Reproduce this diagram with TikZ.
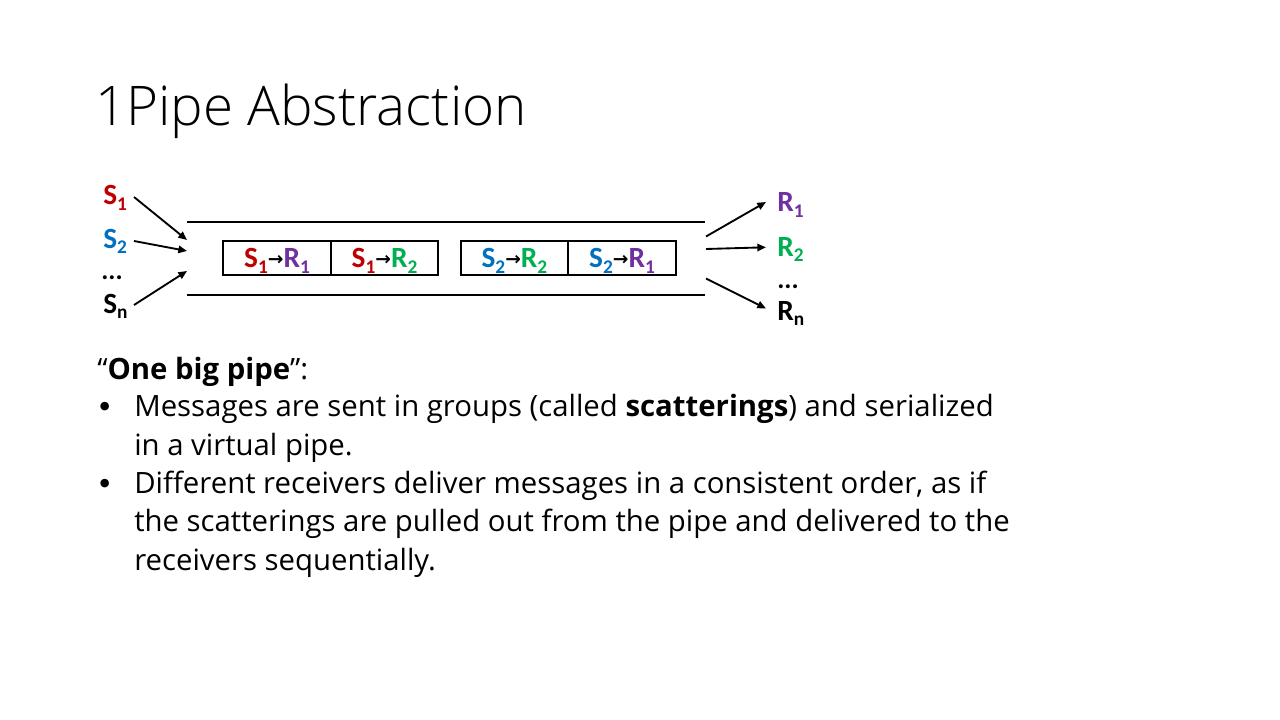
\documentclass[tikz,border=0pt]{standalone}
\usepackage{fontspec}
\setmainfont{Open Sans}
\newfontfamily\titlefont{Open Sans Light}
\newfontfamily\lblfont{Carlito}
\newfontfamily\arrfont{DejaVu Sans}
\usetikzlibrary{arrows.meta}
\definecolor{cred}{HTML}{C00000}
\definecolor{cblue}{HTML}{0070C0}
\definecolor{cpurple}{HTML}{7030A0}
\definecolor{cgreen}{HTML}{00B050}
\newcommand{\lsub}[1]{\raisebox{-0.2em}{\fontsize{14.5}{14.5}\selectfont #1}}
\newcommand{\larr}{{\arrfont\fontsize{14}{14}\selectfont\raisebox{0.12em}{→}}}
\newcommand{\lab}[3]{\textcolor{#1}{#2\lsub{#3}}}
\tikzset{
  lbl/.style={inner sep=0pt, anchor=base west, text depth=0pt, font=\lblfont\bfseries\fontsize{22}{22}\selectfont},
  cell/.style={draw, line width=1.5pt, minimum width=80.6pt, minimum height=25.5pt, inner sep=0pt,
    text height=14.2pt, text depth=0pt, font=\lblfont\bfseries\fontsize{22}{22}\selectfont},
  pipeline/.style={line width=1.5pt},
  conn/.style={line width=1.4pt, -{Triangle[length=6.5pt,width=5.5pt]}},
  body/.style={inner sep=0pt, anchor=base west, align=left, font=\fontsize{22}{28.7}\selectfont},
  bul/.style={inner sep=0pt, anchor=base, font=\arrfont\fontsize{22}{28.7}\selectfont}
}
\begin{document}
\begin{tikzpicture}[x=0.75pt,y=-0.75pt]
\useasboundingbox (0,0) rectangle (1280,720);
\fill[white] (0,0) rectangle (1280,720);

% title
\node[inner sep=0pt, anchor=base west, font=\titlefont\fontsize{41}{41}\selectfont] (title) at (95,126) {1Pipe Abstraction};

% senders
\node[lbl] (s1) at (103,205) {\lab{cred}{S}{1}};
\node[lbl] (s2) at (103,248) {\lab{cblue}{S}{2}};
\node[lbl, font=\lblfont\bfseries\fontsize{20}{20}\selectfont] (sd) at (101,279) {...};
\node[lbl] (sn) at (103,313) {\lab{black}{S}{n}};

% receivers
\node[lbl] (r1) at (777,212) {\lab{cpurple}{R}{1}};
\node[lbl] (r2) at (777,256) {\lab{cgreen}{R}{2}};
\node[lbl, font=\lblfont\bfseries\fontsize{20}{20}\selectfont] (rd) at (777,288) {...};
\node[lbl] (rn) at (777,320) {\lab{black}{R}{n}};

% pipe
\coordinate (ptl) at (187,222);
\coordinate (ptr) at (705,222);
\coordinate (pbl) at (187,295);
\coordinate (pbr) at (705,295);
\draw[pipeline] (ptl) -- (ptr);
\draw[pipeline] (pbl) -- (pbr);

% cells
\node[cell] (c1) at (277,258) {\lab{cred}{S}{1}\larr\lab{cpurple}{R}{1}};
\node[cell] (c2) at (384.5,258) {\lab{cred}{S}{1}\larr\lab{cgreen}{R}{2}};
\node[cell] (c3) at (514.4,258) {\lab{cblue}{S}{2}\larr\lab{cgreen}{R}{2}};
\node[cell] (c4) at (622,258) {\lab{cblue}{S}{2}\larr\lab{cpurple}{R}{1}};

% sender connectors
\coordinate (s1o) at (134,197);
\coordinate (s2o) at (134,241);
\coordinate (sno) at (134,305);
\coordinate (s1i) at (187,240);
\coordinate (s2i) at (187,251);
\coordinate (sni) at (187,271);
\draw[conn] (s1o) -- (s1i);
\draw[conn] (s2o) -- (s2i);
\draw[conn] (sno) -- (sni);

% receiver connectors
\coordinate (r1o) at (706,236.5);
\coordinate (r2o) at (706,249);
\coordinate (rno) at (706,278.5);
\coordinate (r1i) at (766,202);
\coordinate (r2i) at (766,247.3);
\coordinate (rni) at (766,308.5);
\draw[conn] (r1o) -- (r1i);
\draw[conn] (r2o) -- (r2i);
\draw[conn] (rno) -- (rni);

% text (base anchor = baseline of the last line)
\node[body] (head) at (97,379) {“\textbf{One big pipe}”:};
\node[bul] (b1) at (105,417) {•};
\node[body] (t1) at (134,455) {Messages are sent in groups (called \textbf{scatterings}) and serialized\\in a virtual pipe.};
\node[bul] (b2) at (105,494) {•};
\node[body] (t2) at (134,570) {Different receivers deliver messages in a consistent order, as if\\the scatterings are pulled out from the pipe and delivered to the\\receivers sequentially.};
\end{tikzpicture}
\end{document}
